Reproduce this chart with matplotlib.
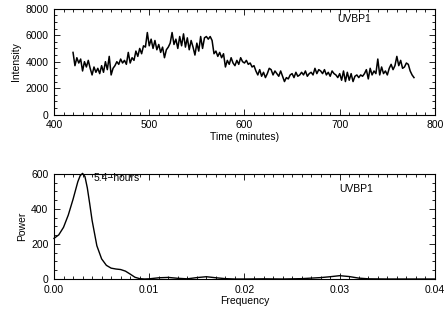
import numpy as np
import matplotlib
matplotlib.use('Agg')
import matplotlib.pyplot as plt
from matplotlib.ticker import MultipleLocator

# time series, 2-minute cadence starting at 420 min
t_start = 420
t_step = 2
intensity = [
    4700, 3700, 4300, 3900, 4200, 3300, 4000, 3600, 4100, 3500,
    3000, 3600, 3200, 3500, 3100, 3700, 3200, 4000, 3400, 4400,
    3000, 3500, 3700, 4000, 3800, 4200, 3900, 4100, 3800, 4700,
    3900, 4300, 4100, 4800, 4400, 5000, 4600, 5200, 5100, 6200,
    5200, 5700, 5000, 5600, 4900, 5300, 4700, 5100, 4300, 4900,
    5100, 5400, 6200, 5300, 5700, 5000, 5900, 5200, 6100, 5100,
    5800, 4900, 5600, 5100, 4500, 5400, 4800, 5900, 5000, 5800,
    5900, 5700, 5900, 5600, 4600, 4800, 4400, 4700, 4300, 4600,
    3600, 4100, 3800, 4300, 3900, 3700, 4100, 3800, 4300, 4000,
    3900, 4100, 3800, 3900, 3600, 3700, 3300, 3000, 3400, 2900,
    3200, 2800, 3100, 3500, 3400, 3000, 3300, 3100, 2900, 3300,
    2900, 2500, 2800, 2700, 3000, 3100, 2800, 3200, 2900, 3000,
    3200, 3000, 3300, 2900, 3100, 3200, 3000, 3500, 3100, 3400,
    3300, 3100, 3400, 3000, 3200, 2900, 3300, 3100, 3000, 2800,
    3100, 2600, 3300, 2500, 3200, 2600, 3100, 2500, 2900, 3000,
    2800, 3000, 2900, 3100, 3400, 2700, 3500, 3000, 3300, 3100,
    4200, 3000, 3600, 3100, 3300, 3000, 3500, 3800, 3400, 3700,
    4400, 3700, 4100, 3500, 3600, 3900, 3800, 3300, 3000, 2800,
]
time = t_start + t_step * np.arange(len(intensity))

# power spectrum
freq = [0.0, 0.0005, 0.001, 0.0015, 0.002, 0.0025, 0.00275, 0.003, 0.00325,
        0.0035, 0.00375, 0.004, 0.0045, 0.005, 0.0055, 0.006, 0.0065, 0.007,
        0.0075, 0.008, 0.0085, 0.009, 0.0095, 0.010, 0.011, 0.012, 0.013,
        0.014, 0.015, 0.016, 0.017, 0.018, 0.019, 0.020, 0.022, 0.024, 0.026,
        0.027, 0.028, 0.029, 0.030, 0.031, 0.032, 0.033, 0.035, 0.037, 0.040]
power = [232, 252, 295, 365, 455, 555, 590, 603, 585,
         520, 430, 335, 190, 115, 78, 62, 57, 54,
         45, 28, 10, 2, 0, 1, 7, 9, 4,
         1, 8, 13, 7, 2, 0, 0, 1, 0, 2,
         5, 8, 13, 19, 14, 5, 1, 0, 0, 0]

plt.rcParams['font.family'] = ['Liberation Sans', 'DejaVu Sans']
plt.rcParams['font.size'] = 7.5

fig = plt.figure(figsize=(4.44, 3.10), dpi=100)
ax1 = fig.add_axes([0.1216, 0.630, 0.858, 0.342])
ax2 = fig.add_axes([0.1216, 0.100, 0.858, 0.339])

ax1.plot(time, intensity, color='black', lw=1.1)
ax1.set_xlim(400, 800)
ax1.set_ylim(0, 8000)
ax1.xaxis.set_major_locator(MultipleLocator(100))
ax1.xaxis.set_minor_locator(MultipleLocator(10))
ax1.yaxis.set_major_locator(MultipleLocator(2000))
ax1.yaxis.set_minor_locator(MultipleLocator(500))
ax1.set_xlabel('Time (minutes)', labelpad=1)
ax1.set_ylabel('Intensity', labelpad=3)
ax1.text(697, 7250, 'UVBP1', va='center', ha='left')

ax2.plot(freq, power, color='black', lw=1.0, clip_on=False)
ax2.set_xlim(0, 0.04)
ax2.set_ylim(0, 600)
ax2.xaxis.set_major_locator(MultipleLocator(0.01))
ax2.xaxis.set_minor_locator(MultipleLocator(0.001))
ax2.yaxis.set_major_locator(MultipleLocator(200))
ax2.yaxis.set_minor_locator(MultipleLocator(50))
ax2.xaxis.set_major_formatter(plt.FormatStrFormatter('%.2f'))
ax2.set_xlabel('Frequency', labelpad=1)
ax2.set_ylabel('Power', labelpad=3)
ax2.text(0.0042, 575, '5.4\u2212hours', va='center', ha='left')
ax2.text(0.030, 515, 'UVBP1', va='center', ha='left')

for ax in (ax1, ax2):
    ax.tick_params(which='both', direction='in', top=True, right=True,
                   width=0.6, pad=4)
    ax.tick_params(which='major', length=4)
    ax.tick_params(which='minor', length=2)
    for s in ax.spines.values():
        s.set_linewidth(0.8)

fig.savefig('out.png', dpi=100)
